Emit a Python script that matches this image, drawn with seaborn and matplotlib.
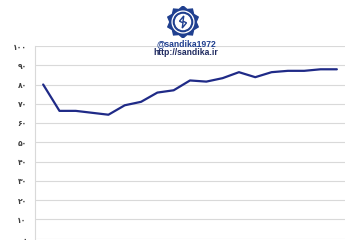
import numpy as np
import pandas as pd
import matplotlib
matplotlib.use("Agg")
import matplotlib.pyplot as plt
import seaborn as sns
from matplotlib.patches import Polygon, Circle

# ---- data ----
points = list(range(19))
values = [80.0, 66.3, 66.3, 65.3, 64.3, 69.2, 71.0, 75.8, 77.0, 82.1,
          81.5, 83.3, 86.4, 83.8, 86.4, 87.1, 87.1, 87.9, 87.9]
ytick_values = [0, 10, 20, 30, 40, 50, 60, 70, 80, 90, 100]
ytick_labels = ["۰", "۱۰", "۲۰", "۳۰", "۴۰", "۵۰", "۶۰", "۷۰", "۸۰", "۹۰", "۱۰۰"]
handle_text = "@sandika1972"
url_text = "http://sandika.ir"

df = pd.DataFrame({"x": points, "v": values})

sns.set_theme(style="white")
plt.rcParams['font.family'] = ['DejaVu Sans']

fig = plt.figure(figsize=(3.6, 2.4), dpi=100)
ax = fig.add_axes([35/360, 1 - 238.5/240, 310/360, (238.5 - 46)/240])

sns.lineplot(data=df, x="x", y="v", ax=ax, color="#1f2a87", linewidth=1.6)

ax.set_xlim(-0.5, len(points) - 0.5)
ax.set_ylim(0, 100)
ax.set_yticks(ytick_values)
ax.set_yticklabels(ytick_labels, fontsize=5.5, color="#404040", fontweight="bold")
ax.set_xticks([])
ax.set_xlabel("")
ax.set_ylabel("")
ax.yaxis.grid(True, color="#d9d9d9", linewidth=0.8)
ax.set_axisbelow(True)
for s in ["top", "right", "bottom"]:
    ax.spines[s].set_visible(False)
ax.spines["left"].set_color("#d9d9d9")
ax.spines["left"].set_linewidth(0.8)
ax.tick_params(axis="y", length=3, width=0.6, color="#bfbfbf", pad=3)

# ---- logo ----
lax = fig.add_axes([(183 - 16)/360, 1 - (22 + 16)/240, 32/360, 32/240])
lax.set_xlim(-1, 1)
lax.set_ylim(-1, 1)
lax.set_aspect("equal")
lax.axis("off")
n = 10
ang = np.linspace(0, 2*np.pi, 2*n, endpoint=False) + np.pi/2
rad = np.where(np.arange(2*n) % 2 == 0, 1.0, 0.82)
lax.add_patch(Polygon(np.c_[rad*np.cos(ang), rad*np.sin(ang)], closed=True,
                      color="#1f3f8f"))
lax.add_patch(Circle((0, 0), 0.68, color="white"))
lax.add_patch(Circle((0, 0), 0.60, color="#1f3f8f"))
lax.add_patch(Circle((0, 0), 0.47, color="white"))
t = np.linspace(0, 1, 20)
s_shape = np.array([[0.05, 0.38], [-0.22, 0.05], [0.0, -0.05], [-0.05, -0.38],
                    [0.22, -0.05], [0.0, 0.05]])
lax.add_patch(Polygon(s_shape, closed=True, fill=False, edgecolor="#1f3f8f",
                      linewidth=1.0))

fig.text(186/360, 1 - 43.5/240, handle_text, ha="center", va="center",
         fontsize=6.2, fontweight="bold", color="#1f3f8f",
         family=["Liberation Sans", "DejaVu Sans"])
fig.text(186/360, 1 - 52.5/240, url_text, ha="center", va="center",
         fontsize=6.2, fontweight="bold", color="#1f2a60",
         family=["Liberation Sans", "DejaVu Sans"])

fig.savefig("out.png", dpi=100)
